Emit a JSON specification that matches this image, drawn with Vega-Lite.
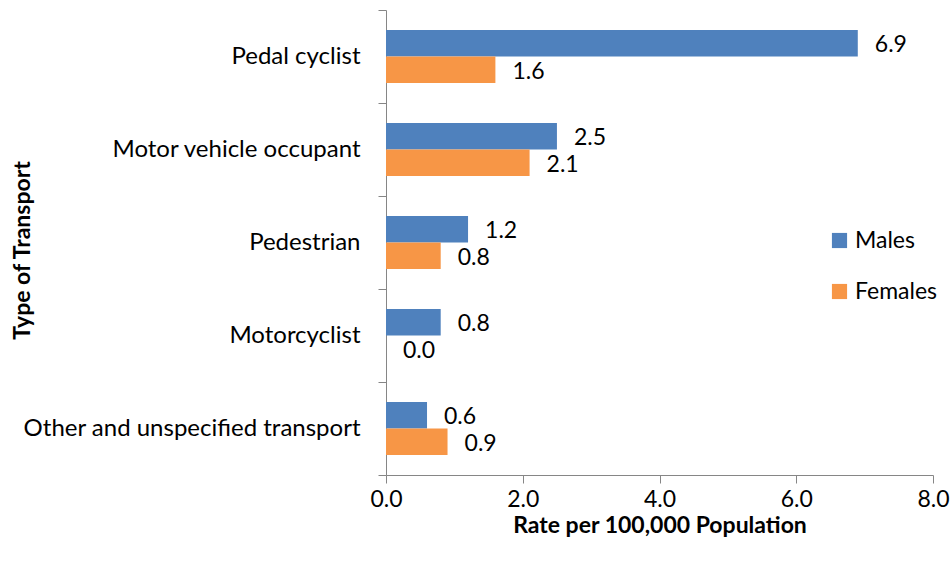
{
  "$schema": "https://vega.github.io/schema/vega-lite/v6.json",
  "autosize": "none",
  "width": 547,
  "height": 465,
  "padding": {"left": 386, "top": 10, "right": 18, "bottom": 94},
  "background": "white",
  "config": {
    "view": {"stroke": null},
    "font": "Lato",
    "axis": {"grid": false, "domainColor": "#868686", "tickColor": "#868686", "labelColor": "#000000", "titleColor": "#000000", "labelFont": "Lato", "titleFont": "Lato"}
  },
  "data": {
    "values": [
      {"transport": "Pedal cyclist", "sex": "Males", "rate": 6.9},
      {"transport": "Pedal cyclist", "sex": "Females", "rate": 1.6},
      {"transport": "Motor vehicle occupant", "sex": "Males", "rate": 2.5},
      {"transport": "Motor vehicle occupant", "sex": "Females", "rate": 2.1},
      {"transport": "Pedestrian", "sex": "Males", "rate": 1.2},
      {"transport": "Pedestrian", "sex": "Females", "rate": 0.8},
      {"transport": "Motorcyclist", "sex": "Males", "rate": 0.8},
      {"transport": "Motorcyclist", "sex": "Females", "rate": 0.0},
      {"transport": "Other and unspecified transport", "sex": "Males", "rate": 0.6},
      {"transport": "Other and unspecified transport", "sex": "Females", "rate": 0.9}
    ]
  },
  "encoding": {
    "y": {
      "field": "transport", "type": "nominal", "sort": null,
      "scale": {"paddingInner": 0, "paddingOuter": 0},
      "axis": {"title": "Type of Transport", "titleFontSize": 23, "titleFontWeight": "bold", "labelFontSize": 24, "labelLimit": 0, "tickBand": "extent", "tickSize": 8, "labelPadding": 18, "titleX": -364, "titleY": 240, "titleAngle": 270, "titleAlign": "center", "titleBaseline": "middle"}
    },
    "yOffset": {"field": "sex", "type": "nominal", "sort": ["Males", "Females"], "scale": {"paddingInner": 0, "paddingOuter": 0.755}},
    "x": {
      "field": "rate", "type": "quantitative",
      "scale": {"domain": [0, 8], "nice": false},
      "axis": {"title": "Rate per 100,000 Population", "titleFontSize": 23, "titleFontWeight": "bold", "labelFontSize": 23, "values": [0, 2, 4, 6, 8], "format": ".1f", "tickSize": 8, "labelPadding": 5, "titlePadding": 3, "labelFlush": false}
    }
  },
  "layer": [
    {
      "mark": {"type": "bar"},
      "encoding": {
        "color": {
          "field": "sex", "type": "nominal",
          "scale": {"domain": ["Males", "Females"], "range": ["#4F81BD", "#F79646"]},
          "legend": {"title": null, "orient": "none", "legendX": 442, "legendY": 219, "symbolType": "square", "symbolSize": 230, "labelFontSize": 23, "labelFont": "Lato", "rowPadding": 27, "symbolStrokeWidth": 0}
        }
      }
    },
    {
      "mark": {"type": "text", "align": "left", "baseline": "middle", "dx": 17, "dy": 2, "fontSize": 23, "font": "Lato", "color": "#000000"},
      "encoding": {
        "text": {"field": "rate", "type": "quantitative", "format": ".1f"}
      }
    }
  ]
}
